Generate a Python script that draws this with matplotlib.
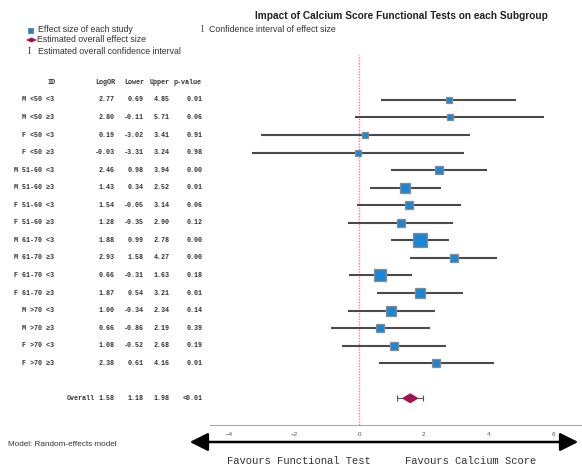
import numpy as np
import matplotlib
matplotlib.use("Agg")
import matplotlib.pyplot as plt
import matplotlib.transforms as mtransforms
from matplotlib.patches import FancyArrowPatch

# Subgroup data
ids = ["M <50 <3", "M <50 ≥3", "F <50 <3", "F <50 ≥3",
       "M 51-60 <3", "M 51-60 ≥3", "F 51-60 <3", "F 51-60 ≥3",
       "M 61-70 <3", "M 61-70 ≥3", "F 61-70 <3", "F 61-70 ≥3",
       "M >70 <3", "M >70 ≥3", "F >70 <3", "F >70 ≥3"]
logor = [2.77, 2.80, 0.19, -0.03, 2.46, 1.43, 1.54, 1.28,
         1.88, 2.93, 0.66, 1.87, 1.00, 0.66, 1.08, 2.38]
lower = [0.69, -0.11, -3.02, -3.31, 0.98, 0.34, -0.05, -0.35,
         0.99, 1.58, -0.31, 0.54, -0.34, -0.86, -0.52, 0.61]
upper = [4.85, 5.71, 3.41, 3.24, 3.94, 2.52, 3.14, 2.90,
         2.78, 4.27, 1.63, 3.21, 2.34, 2.19, 2.68, 4.16]
pvals = ["0.01", "0.06", "0.91", "0.98", "0.00", "0.01", "0.06", "0.12",
         "0.00", "0.00", "0.18", "0.01", "0.14", "0.39", "0.19", "0.01"]
# study weights in percent (box area)
weights = [3.9, 2.9, 2.4, 2.4, 5.8, 9.7, 4.5, 4.5,
           14.6, 6.5, 11.6, 7.2, 7.2, 5.8, 5.8, 5.1]

# Overall estimate
overall = 1.58
overall_lo = 1.18
overall_hi = 1.98
overall_p = "<0.01"

xticks = [-4, -2, 0, 2, 4, 6]

W, H = 582, 468
fig = plt.figure(figsize=(W / 100, H / 100), dpi=100)
ax = fig.add_axes([210 / W, 43 / H, 372 / W, 370 / H])

rows = np.arange(len(ids))
overall_row = len(ids) + 1

# CI lines and boxes
for i in rows:
    ax.plot([lower[i], upper[i]], [i, i], color="#4a4a4a", lw=1.5, zorder=2,
            solid_capstyle="butt")
    ms = np.sqrt(weights[i]) * 3.53 * 0.72
    ax.plot(logor[i], i, marker="s", ms=ms, mfc="#1a86d6", mec="#8a8a8a",
            mew=0.9, zorder=3)

# overall estimate: whiskers + diamond
ax.errorbar(overall, overall_row, xerr=[[overall - overall_lo], [overall_hi - overall]],
            fmt="none", ecolor="#555555", elinewidth=0.8, capsize=2, capthick=0.8, zorder=2)
dx, dy = 0.22, 0.24
ax.fill([overall - dx, overall, overall + dx, overall],
        [overall_row, overall_row - dy, overall_row, overall_row + dy],
        color="#a3124f", zorder=3)

ax.axvline(0, color="#f27a9c", lw=1.0, ls=(0, (1, 1)), zorder=1)

ax.set_xlim(-4.6, 6.88)
ax.set_ylim(18.52, -2.56)
ax.set_xticks(xticks)
ax.set_xticklabels([str(t).replace("-", "−") for t in xticks], fontsize=4.5,
                   color="#555555", family="Liberation Sans")
ax.tick_params(axis="x", length=0, pad=5)
ax.set_yticks([])
for s in ["top", "left", "right"]:
    ax.spines[s].set_visible(False)
ax.spines["bottom"].set_color("#aaaaaa")
ax.spines["bottom"].set_linewidth(0.8)

# Table on the left
tr = mtransforms.blended_transform_factory(fig.transFigure, ax.transData)
mono = dict(family="Liberation Mono", fontsize=4.9, fontweight="bold",
            color="#333333", transform=tr, va="center")
fx = lambda px: px / W
ax.text(fx(52), -1, "ID", ha="center", **mono)
ax.text(fx(115), -1, "LogOR", ha="right", **mono)
ax.text(fx(144), -1, "Lower", ha="right", **mono)
ax.text(fx(170), -1, "Upper", ha="right", **mono)
ax.text(fx(174), -1, "p-value", ha="left", **mono)
for i in rows:
    ax.text(fx(54), i, ids[i], ha="right", **mono)
    ax.text(fx(115), i, f"{logor[i]:.2f}", ha="right", **mono)
    ax.text(fx(144), i, f"{lower[i]:.2f}", ha="right", **mono)
    ax.text(fx(170), i, f"{upper[i]:.2f}", ha="right", **mono)
    ax.text(fx(203), i, pvals[i], ha="right", **mono)
ax.text(fx(95), overall_row, "Overall", ha="right", **mono)
ax.text(fx(115), overall_row, f"{overall:.2f}", ha="right", **mono)
ax.text(fx(144), overall_row, f"{overall_lo:.2f}", ha="right", **mono)
ax.text(fx(170), overall_row, f"{overall_hi:.2f}", ha="right", **mono)
ax.text(fx(203), overall_row, overall_p, ha="right", **mono)

# Title and legend
fy = lambda py: 1 - py / H
fig.text(fx(401), fy(16), "Impact of Calcium Score Functional Tests on each Subgroup",
         ha="center", va="center", fontsize=7.3, fontweight="bold",
         family="Liberation Sans", color="#222222")
sans = dict(family="Liberation Sans", fontsize=6.3, color="#333333", va="center")
fig.text(fx(38), fy(30), "Effect size of each study", ha="left", **sans)
fig.text(fx(37.5), fy(40), "Estimated overall effect size", ha="left", **sans)
fig.text(fx(38), fy(51), "Estimated overall confidence interval", ha="left", **sans)
fig.text(fx(209), fy(30), "Confidence interval of effect size", ha="left", **sans)
fig.text(fx(29.5), fy(51), "I", ha="center", va="center", fontsize=7,
         family="Liberation Serif", color="#333333")
fig.text(fx(202), fy(30), "I", ha="center", va="center", fontsize=7,
         family="Liberation Serif", color="#555555")
fig.add_artist(plt.Rectangle((fx(27.5), fy(32.5)), 5 / W, 5 / H, transform=fig.transFigure,
                             facecolor="#1a86d6", edgecolor="#555555", lw=0.4))
fig.add_artist(plt.Polygon([[fx(26), fy(40)], [fx(31.5), fy(37.5)],
                            [fx(37), fy(40)], [fx(31.5), fy(42.5)]],
                           closed=True, transform=fig.transFigure,
                           facecolor="#a3124f", edgecolor="none"))

fig.text(fx(8), fy(444), "Model: Random-effects model", ha="left",
         **{**sans, "fontsize": 5.9})

# double arrow with direction labels
arrow = FancyArrowPatch((fx(187), fy(442)), (fx(581), fy(442)),
                        transform=fig.transFigure,
                        arrowstyle="<|-|>,head_length=1.1,head_width=0.55",
                        mutation_scale=10, lw=1.8, color="black")
fig.add_artist(arrow)
fig.text(fx(299), fy(461), "Favours Functional Test", ha="center", va="center",
         family="Liberation Mono", fontsize=7.6, color="#333333")
fig.text(fx(471), fy(461), "Favours Calcium Score", ha="center", va="center",
         family="Liberation Mono", fontsize=7.6, color="#333333")

fig.savefig("out.png", dpi=100)
